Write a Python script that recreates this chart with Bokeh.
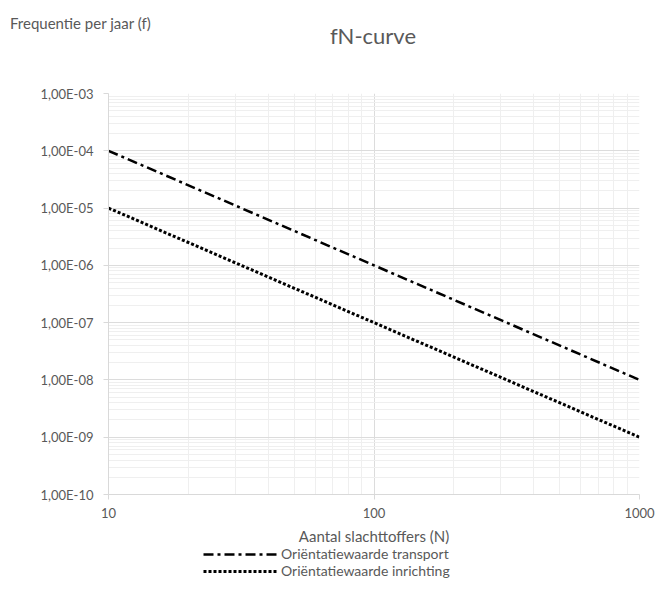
from bokeh.plotting import figure
from bokeh.layouts import column
from bokeh.models import (FixedTicker, CustomJSTickFormatter, Legend, LegendItem,
                          Range1d, Div)
from bokeh.embed import file_html
from bokeh.resources import INLINE

# ---- data ----
n_values = [10, 100, 1000]
transport = [1e-4, 1e-6, 1e-8]
inrichting = [1e-5, 1e-7, 1e-9]
x_ticks = [10, 100, 1000]
y_ticks = [1e-10, 1e-9, 1e-8, 1e-7, 1e-6, 1e-5, 1e-4, 1e-3]
title_text = "fN-curve"
y_label = "Frequentie per jaar (f)"
x_label = "Aantal slachttoffers (N)"
legend_labels = ["Oriëntatiewaarde transport", "Oriëntatiewaarde inrichting"]

FONT = "Lato"
GREY = "#595959"
W = 656

# ---- top strip: y-axis caption and title (HTML text) ----
top_html = (
    '<div style="position:relative;width:656px;height:80px;'
    'font-family:Lato;color:#595959;">'
    '<span style="position:absolute;left:10px;top:14px;font-size:15px;'
    'line-height:18px;white-space:nowrap;">' + y_label + '</span>'
    '<span style="position:absolute;left:273px;width:200px;top:23px;'
    'font-size:22px;line-height:26px;text-align:center;white-space:nowrap;">'
    + title_text + '</span></div>'
)
pt = Div(text=top_html, width=W, height=80, margin=0)

# ---- main chart ----
p = figure(frame_width=531, frame_height=401, x_axis_type="log", y_axis_type="log",
           x_range=(10, 1000), y_range=(1e-10, 1e-3),
           output_backend="svg", toolbar_location=None,
           min_border_left=108, min_border_right=17,
           min_border_top=13, min_border_bottom=48)
p.outline_line_color = None

x_minor = [m * 10 ** e for e in (1, 2) for m in range(2, 10)]
y_minor = [m * 10.0 ** e for e in range(-10, -3) for m in range(2, 10)]
p.xaxis.ticker = FixedTicker(ticks=x_ticks, minor_ticks=x_minor)
p.yaxis.ticker = FixedTicker(ticks=y_ticks, minor_ticks=y_minor)
p.yaxis.formatter = CustomJSTickFormatter(code="""
const e = Math.round(Math.log10(tick));
const s = String(Math.abs(e)).padStart(2, '0');
return '1,00E' + (e < 0 ? '-' : '+') + s;
""")
p.xaxis.formatter = CustomJSTickFormatter(code="return String(Math.round(tick));")

for ax in (p.xaxis, p.yaxis):
    ax.axis_line_color = "#d9d9d9"
    ax.major_tick_line_color = "#d9d9d9"
    ax.major_tick_out = 5
    ax.major_tick_in = 0
    ax.minor_tick_line_color = None
    ax.major_label_text_font = FONT
    ax.major_label_text_color = GREY
    ax.major_label_text_font_size = "13px"

p.yaxis.major_label_standoff = 10
p.xaxis.axis_label = x_label
p.xaxis.axis_label_text_font = FONT
p.xaxis.axis_label_text_font_style = "normal"
p.xaxis.axis_label_text_color = GREY
p.xaxis.axis_label_text_font_size = "15px"
p.xaxis.axis_label_standoff = 6
p.xaxis.major_label_standoff = 8

p.xgrid.grid_line_color = "#dcdcdc"
p.ygrid.grid_line_color = "#dcdcdc"
p.xgrid.minor_grid_line_color = "#efefef"
p.ygrid.minor_grid_line_color = "#efefef"

p.line(n_values, transport, line_color="black", line_width=2.5,
       line_dash="10 4 3 4")
p.line(n_values, inrichting, line_color="black", line_width=3,
       line_dash="3 2")

# ---- legend strip (proxy lines fall outside its ranges, only legend shows) ----
pl = figure(width=W, height=44, x_range=Range1d(0, 1), y_range=Range1d(100, 144),
            x_axis_location=None, y_axis_location=None,
            output_backend="svg", toolbar_location=None,
            min_border_left=108, min_border_right=17,
            min_border_top=0, min_border_bottom=0)
pl.grid.visible = False
pl.outline_line_color = None
g1 = pl.line(n_values, transport, line_color="black", line_width=2.5,
             line_dash="10 4 3 4")
g2 = pl.line(n_values, inrichting, line_color="black", line_width=3,
             line_dash="3 2")
legend = Legend(items=[LegendItem(label=legend_labels[0], renderers=[g1]),
                       LegendItem(label=legend_labels[1], renderers=[g2])],
                location=(95, 12), orientation="vertical",
                label_text_font=FONT, label_text_color=GREY,
                label_text_font_size="14px", spacing=0, padding=0,
                margin=0, glyph_width=75, glyph_height=16, label_height=16,
                label_standoff=3,
                border_line_color=None, background_fill_alpha=0)
pl.add_layout(legend, "center")

layout = column(pt, p, pl, spacing=0)
open("out.html", "w").write(file_html(layout, INLINE))
